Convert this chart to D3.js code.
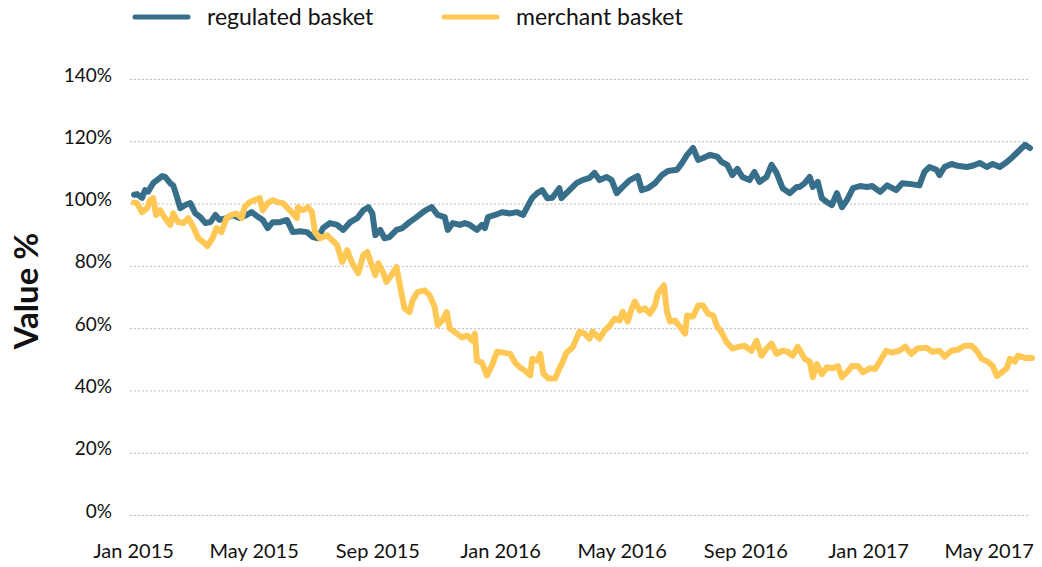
<!DOCTYPE html>
<html>
<head>
<meta charset="utf-8">
<script src="https://cdn.jsdelivr.net/npm/d3@7"></script>
<style>
  body { margin: 0; background: #fff; }
  text { font-family: Lato, "Noto Sans", sans-serif; fill: #111; }
</style>
</head>
<body>
<svg width="1042" height="567"></svg>
<script>
const seriesNames = ['regulated basket', 'merchant basket'];
const seriesColors = ['#376f8b', '#ffc855'];
const yTicks = [0, 20, 40, 60, 80, 100, 120, 140];

const regulatedDates = ['2015-01-02','2015-01-05','2015-01-10','2015-01-13','2015-01-16','2015-01-21','2015-01-30','2015-02-02','2015-02-07','2015-02-10','2015-02-14','2015-02-17','2015-02-22','2015-02-27','2015-03-04','2015-03-09','2015-03-14','2015-03-19','2015-03-24','2015-03-28','2015-04-04','2015-04-10','2015-04-17','2015-04-24','2015-04-29','2015-05-04','2015-05-10','2015-05-15','2015-05-20','2015-05-27','2015-06-03','2015-06-09','2015-06-16','2015-06-23','2015-06-29','2015-07-04','2015-07-09','2015-07-16','2015-07-23','2015-07-29','2015-08-05','2015-08-12','2015-08-18','2015-08-23','2015-08-27','2015-08-30','2015-09-04','2015-09-08','2015-09-13','2015-09-20','2015-09-26','2015-10-03','2015-10-10','2015-10-18','2015-10-25','2015-10-31','2015-11-07','2015-11-10','2015-11-15','2015-11-22','2015-11-27','2015-12-02','2015-12-09','2015-12-14','2015-12-17','2015-12-20','2015-12-27','2016-01-03','2016-01-11','2016-01-18','2016-01-24','2016-01-28','2016-02-02','2016-02-07','2016-02-12','2016-02-17','2016-02-22','2016-02-29','2016-03-02','2016-03-10','2016-03-17','2016-03-23','2016-03-30','2016-04-04','2016-04-09','2016-04-16','2016-04-21','2016-04-26','2016-05-02','2016-05-09','2016-05-17','2016-05-21','2016-05-27','2016-06-03','2016-06-10','2016-06-16','2016-06-25','2016-06-30','2016-07-05','2016-07-11','2016-07-16','2016-07-21','2016-07-28','2016-08-04','2016-08-08','2016-08-14','2016-08-19','2016-08-24','2016-08-29','2016-09-05','2016-09-10','2016-09-15','2016-09-22','2016-09-27','2016-10-02','2016-10-08','2016-10-15','2016-10-22','2016-10-25','2016-10-30','2016-11-04','2016-11-07','2016-11-12','2016-11-16','2016-11-21','2016-11-26','2016-12-01','2016-12-06','2016-12-11','2016-12-17','2016-12-24','2016-12-31','2017-01-05','2017-01-13','2017-01-20','2017-01-29','2017-02-04','2017-02-13','2017-02-21','2017-02-26','2017-03-03','2017-03-10','2017-03-13','2017-03-18','2017-03-25','2017-03-31','2017-04-09','2017-04-15','2017-04-22','2017-04-29','2017-05-05','2017-05-12','2017-05-19','2017-05-25','2017-05-30','2017-06-06','2017-06-11'];
const regulatedValues = [103,103.2,102,104.5,104,106.7,109,108.7,106.7,106,102,98.7,99.7,100.3,97,95.8,93.9,94.2,96.5,94.9,95.5,96.5,95.5,96.5,97.4,96.2,94.9,92.3,94.2,94.2,94.9,91,91.3,91,89.4,89,92.3,93.9,93.3,91.7,94.2,95.5,98,99,97,90,91.7,89,89.4,91.7,92.3,94.2,95.8,97.8,99,96.5,95.8,91.7,93.9,93.3,93.9,93.3,91.7,93.3,92.3,95.8,96.5,97.4,97,97.4,96.5,99,102,103.5,104.5,101.9,102,105.1,101.9,104.5,106.7,107.7,108.4,110,107.7,108.7,107.7,103.5,105.5,107.7,109,104.5,105.1,106.7,109.3,110.6,111,113.2,115.8,118,114.2,114.8,115.8,115.2,113.6,112.6,109.3,111.3,108.7,107.7,110.3,107.1,108.7,112.6,110,105.1,103.5,105.5,105.5,106.7,108.7,105.5,107.1,101.9,100.6,99.7,103.5,99,101.3,105.1,105.8,105.5,105.8,103.9,106,104.5,106.7,106.4,106,110.3,111.9,111,109.3,111.9,112.9,112.3,111.9,112.3,113.2,111.9,112.9,111.9,113.5,115.2,116.8,119,118];

const merchantDates = ['2015-01-02','2015-01-05','2015-01-10','2015-01-15','2015-01-18','2015-01-21','2015-01-24','2015-01-28','2015-02-02','2015-02-07','2015-02-10','2015-02-15','2015-02-20','2015-02-25','2015-03-02','2015-03-07','2015-03-12','2015-03-16','2015-03-21','2015-03-25','2015-03-30','2015-04-04','2015-04-09','2015-04-14','2015-04-19','2015-04-22','2015-04-27','2015-05-02','2015-05-07','2015-05-10','2015-05-15','2015-05-20','2015-05-25','2015-05-30','2015-06-06','2015-06-13','2015-06-14','2015-06-19','2015-06-24','2015-06-28','2015-07-01','2015-07-06','2015-07-13','2015-07-18','2015-07-23','2015-07-28','2015-08-02','2015-08-07','2015-08-13','2015-08-18','2015-08-22','2015-08-27','2015-08-30','2015-09-02','2015-09-07','2015-09-10','2015-09-15','2015-09-20','2015-09-25','2015-09-28','2015-10-03','2015-10-06','2015-10-11','2015-10-18','2015-10-23','2015-10-28','2015-10-31','2015-11-05','2015-11-09','2015-11-12','2015-11-19','2015-11-24','2015-11-29','2015-12-04','2015-12-07','2015-12-09','2015-12-14','2015-12-19','2015-12-24','2015-12-29','2016-01-04','2016-01-11','2016-01-16','2016-01-21','2016-01-26','2016-01-31','2016-02-02','2016-02-07','2016-02-10','2016-02-13','2016-02-18','2016-02-25','2016-02-28','2016-03-03','2016-03-07','2016-03-13','2016-03-17','2016-03-20','2016-03-25','2016-03-30','2016-04-02','2016-04-09','2016-04-14','2016-04-19','2016-04-24','2016-04-29','2016-05-02','2016-05-07','2016-05-11','2016-05-14','2016-05-19','2016-05-24','2016-05-29','2016-06-03','2016-06-06','2016-06-12','2016-06-15','2016-06-18','2016-06-23','2016-06-28','2016-07-03','2016-07-05','2016-07-11','2016-07-16','2016-07-21','2016-07-26','2016-07-31','2016-08-04','2016-08-08','2016-08-13','2016-08-19','2016-08-26','2016-08-31','2016-09-07','2016-09-12','2016-09-17','2016-09-22','2016-09-27','2016-10-02','2016-10-08','2016-10-13','2016-10-18','2016-10-23','2016-10-30','2016-11-04','2016-11-07','2016-11-11','2016-11-16','2016-11-21','2016-11-27','2016-12-02','2016-12-06','2016-12-11','2016-12-16','2016-12-22','2016-12-27','2017-01-03','2017-01-08','2017-01-13','2017-01-19','2017-01-25','2017-02-01','2017-02-07','2017-02-13','2017-02-19','2017-02-28','2017-03-06','2017-03-13','2017-03-18','2017-03-25','2017-03-31','2017-04-07','2017-04-14','2017-04-19','2017-04-24','2017-04-30','2017-05-05','2017-05-09','2017-05-14','2017-05-19','2017-05-22','2017-05-27','2017-05-30','2017-06-06','2017-06-13'];
const merchantValues = [100.5,100.3,97.4,98.7,101.3,101.9,96.5,98,95.5,93.3,97,94.2,93.9,95.5,92.6,89,87.8,86.5,89,92.3,91,95.5,96.5,97,95.5,99,100.6,101.3,101.9,98,100.3,101.3,100.6,100.3,98,95.5,99,98,99,97.4,91,89,90,88.4,86.8,81.4,85.2,81,77.8,83.6,84.6,79.8,77.2,81,77.8,75,77.2,79.8,71.3,66.5,65.3,69.1,71.7,72.3,70.7,66.9,61.1,62.8,65.3,60,58.4,57.2,57.8,56.2,58.4,49.7,49.1,45,48.2,52.6,52.3,51.9,49.1,47.5,46.5,45,50.3,49.7,51.9,45.6,44,44,46.5,49.1,52.3,53.9,56.8,59,58.4,56.8,59,56.8,59.4,61,63.2,62.6,65.4,62.3,66.5,68.7,65.8,66.5,64.8,67.4,71.3,73.9,65.4,62.3,62.6,60.6,58.4,64.2,63.9,67.4,67.4,64.8,64.2,60.6,59,55.8,53.6,54.2,54.5,52.9,56.1,51.3,53.6,55.2,51.9,52.9,52.6,51.3,54.2,50.3,49.4,44.4,48.6,45.4,47.6,47.3,48,44.4,46,48,48,46,47.3,47,49.7,52.9,52.3,52.9,54.2,51.9,53.6,53.9,52.6,52.9,51,52.9,53.2,54.5,54.5,52.9,50.3,49.4,48,44.8,46,47.3,50.3,49.4,51.3,50.6,50.6];

const parse = d3.timeParse('%Y-%m-%d');
const series = [
  regulatedDates.map((d, i) => ({ date: parse(d), value: regulatedValues[i] })),
  merchantDates.map((d, i) => ({ date: parse(d), value: merchantValues[i] }))
];

const svg = d3.select('svg');

const x = d3.scaleTime()
  .domain([parse('2015-01-01'), parse('2017-06-13')])
  .range([133, 1032]);

const y = d3.scaleLinear()
  .domain([0, 140])
  .range([515.5, 79.5]);

// dotted grid
svg.append('g')
  .selectAll('line')
  .data(yTicks)
  .enter()
  .append('line')
  .attr('x1', 130)
  .attr('x2', 1030)
  .attr('y1', d => y(d))
  .attr('y2', d => y(d))
  .attr('stroke', '#bdbdbd')
  .attr('stroke-width', 1)
  .attr('stroke-dasharray', '2,2');

// y tick labels
svg.append('g')
  .selectAll('text')
  .data(yTicks)
  .enter()
  .append('text')
  .attr('x', 112)
  .attr('y', d => y(d) + 2)
  .attr('text-anchor', 'end')
  .attr('font-size', 19)
  .text(d => d + '%');

// x axis labels
const xAxis = d3.axisBottom(x)
  .ticks(d3.timeMonth.every(4))
  .tickFormat(d3.timeFormat('%b %Y'))
  .tickSize(0)
  .tickPadding(0);

svg.append('g')
  .attr('transform', 'translate(0, 544)')
  .call(xAxis)
  .call(g => g.select('.domain').remove())
  .call(g => g.selectAll('text')
    .attr('font-size', 20)
    .attr('font-family', 'Lato, sans-serif')
    .attr('fill', '#111'));

// y axis title
svg.append('text')
  .attr('transform', 'translate(38, 291) rotate(-90)')
  .attr('text-anchor', 'middle')
  .attr('font-size', 33)
  .attr('font-weight', 'bold')
  .text('Value %');

// lines
const line = d3.line()
  .x(d => x(d.date))
  .y(d => y(d.value));

svg.selectAll('.series')
  .data(series)
  .enter()
  .append('path')
  .attr('class', 'series')
  .attr('d', d => line(d))
  .attr('fill', 'none')
  .attr('stroke', (d, i) => seriesColors[i])
  .attr('stroke-width', 6)
  .attr('stroke-linejoin', 'round')
  .attr('stroke-linecap', 'round');

// legend
const legendX = [135, 444];
const legend = svg.selectAll('.legend')
  .data(seriesNames)
  .enter()
  .append('g')
  .attr('class', 'legend')
  .attr('transform', (d, i) => `translate(${legendX[i]}, 17)`);

legend.append('line')
  .attr('x1', 0)
  .attr('x2', 53)
  .attr('stroke', (d, i) => seriesColors[i])
  .attr('stroke-width', 5)
  .attr('stroke-linecap', 'round');

legend.append('text')
  .attr('x', 72)
  .attr('y', 8)
  .attr('font-size', 23)
  .text(d => d);
</script>
</body>
</html>
